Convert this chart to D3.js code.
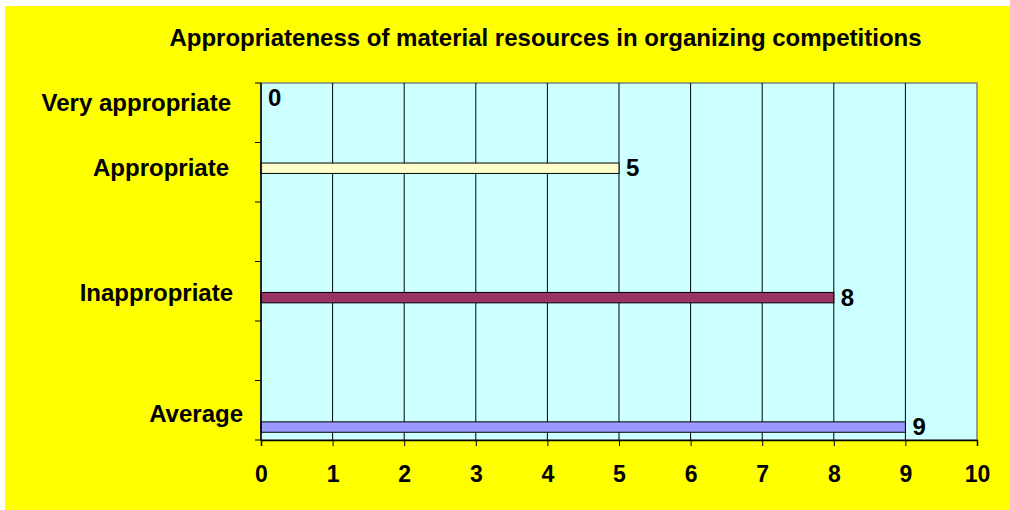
<!DOCTYPE html>
<html><head><meta charset="utf-8">
<script src="https://cdn.jsdelivr.net/npm/d3@7"></script>
<style>html,body{margin:0;padding:0;background:#fff;}svg{display:block;}</style>
</head><body>
<script>
const title = "Appropriateness of material resources in organizing competitions";
const categories = ["Very appropriate", "Appropriate", "Inappropriate", "Average"];
const categorySlots = [0, 1, 3, 5];
const values = [0, 5, 8, 9];
const barColors = ["#FFFFCC", "#FFFFCC", "#993366", "#9999FF"];
const xTicks = [0, 1, 2, 3, 4, 5, 6, 7, 8, 9, 10];
const slotCount = 6;

(function () {
const W = 1010, H = 510;
const svg = d3.select("body").append("svg").attr("width", W).attr("height", H);
const font = "'Liberation Sans', Arial, sans-serif";

svg.append("rect").attr("x", 5).attr("y", 6).attr("width", W - 5).attr("height", H - 6).attr("fill", "#FFFF00");

const pL = 261, pR = 977, pT = 83, pB = 440;
const x = d3.scaleLinear().domain([0, 10]).range([pL, pR]);
const y = d3.scaleBand().domain(d3.range(slotCount)).range([pT, pB]).padding(0);
const bw = y.bandwidth();
const inner = d3.scaleBand().domain(d3.range(categories.length)).range([0.17 * bw, 0.87 * bw]).padding(0);

svg.append("rect").attr("x", pL).attr("y", pT).attr("width", pR - pL).attr("height", pB - pT)
  .attr("fill", "#CCFFFF").attr("stroke", "#808080").attr("stroke-width", 1.5);

// vertical gridlines
svg.append("g").selectAll("line").data(xTicks.slice(1, -1)).join("line")
  .attr("x1", d => x(d)).attr("x2", d => x(d)).attr("y1", pT).attr("y2", pB)
  .attr("stroke", "#000").attr("stroke-width", 1);

// bars
const data = categories.map((c, i) => ({c, i, v: values[i], slot: categorySlots[i]}));
svg.append("g").selectAll("rect").data(data.filter(d => d.v > 0)).join("rect")
  .attr("x", x(0)).attr("y", d => y(d.slot) + inner(d.i))
  .attr("width", d => x(d.v) - x(0)).attr("height", inner.bandwidth())
  .attr("fill", d => barColors[d.i]).attr("stroke", "#000").attr("stroke-width", 1);

// value labels
svg.append("g").selectAll("text").data(data).join("text")
  .attr("x", d => x(d.v) + 7).attr("y", d => y(d.slot) + inner(d.i) + inner.bandwidth() / 2 + 8)
  .attr("font-family", font).attr("font-weight", "bold").attr("font-size", 24).attr("fill", "#000")
  .text(d => d.v);

// x axis
const xAxis = d3.axisBottom(x).tickValues(xTicks).tickSize(6).tickPadding(20).tickFormat(d3.format("d"));
const gx = svg.append("g").attr("transform", `translate(0,${pB})`).call(xAxis);
gx.select(".domain").attr("stroke", "#000").attr("stroke-width", 1.5);
gx.selectAll(".tick line").attr("stroke", "#000");
gx.selectAll("text").attr("font-family", font).attr("font-weight", "bold").attr("font-size", 23).attr("fill", "#000");

// y axis line and ticks at band boundaries
const yTicks = d3.range(slotCount + 1).map(i => pT + i * bw);
svg.append("line").attr("x1", pL).attr("x2", pL).attr("y1", pT).attr("y2", pB)
  .attr("stroke", "#000").attr("stroke-width", 1.5);
svg.append("g").selectAll("line").data(yTicks).join("line")
  .attr("x1", pL - 6).attr("x2", pL).attr("y1", d => d).attr("y2", d => d)
  .attr("stroke", "#000").attr("stroke-width", 1);

// category labels (layout offsets relative to the band centre)
const labelDy = [-2, 4, 10, 12];
const labelX = [231, 229, 233, 243];
svg.append("g").selectAll("text").data(data).join("text")
  .attr("x", d => labelX[d.i]).attr("y", d => y(d.slot) + bw / 2 + labelDy[d.i])
  .attr("text-anchor", "end")
  .attr("font-family", font).attr("font-weight", "bold").attr("font-size", 24).attr("fill", "#000")
  .text(d => d.c);

// title
svg.append("text").attr("x", 545.5).attr("y", 46).attr("text-anchor", "middle")
  .attr("font-family", font).attr("font-weight", "bold").attr("font-size", 24).attr("fill", "#000")
  .text(title);
})();
</script>
</body></html>
